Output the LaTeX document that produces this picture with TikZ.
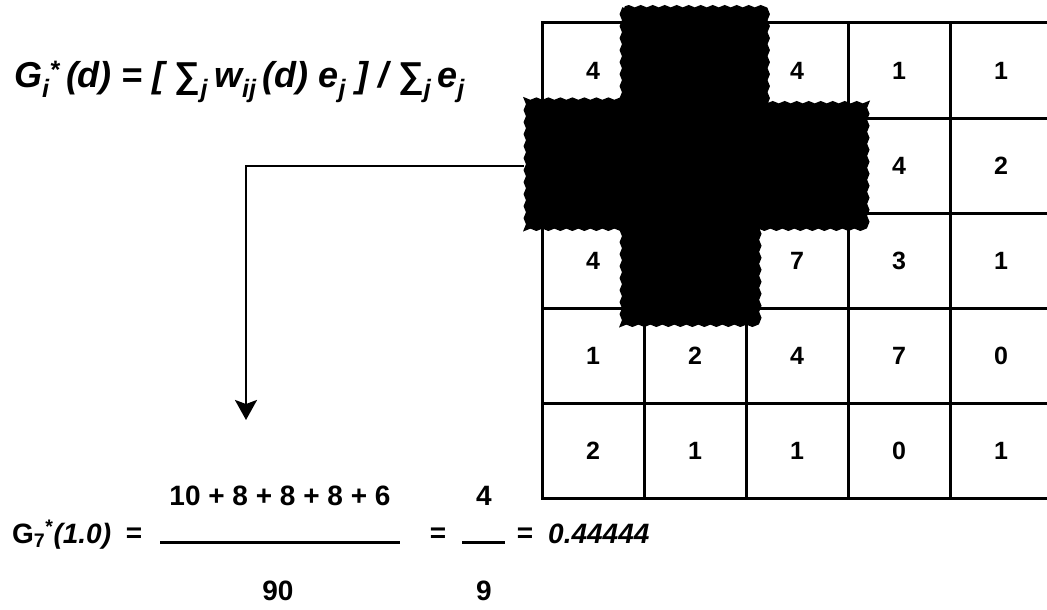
\documentclass[tikz,border=0pt]{standalone}
\usepackage{fontspec}
\setmainfont{Liberation Sans}
\usetikzlibrary{arrows.meta,decorations.pathmorphing}

\tikzset{
  cell/.style={draw, line width=3pt, minimum width=102pt, minimum height=95pt,
    inner sep=0pt, font=\fontsize{25}{25}\selectfont\bfseries},
  blot/.style={fill=black, draw=black, line width=1.5pt, decorate,
    decoration={snake, segment length=12pt, amplitude=1.2pt}},
  eqn/.style={inner sep=0pt, font=\fontsize{28}{28}\selectfont\bfseries},
  bar/.style={line width=3pt},
}

\begin{document}
\begin{tikzpicture}[x=1pt, y=-1pt]
  \useasboundingbox (0,0) rectangle (1047,610);
  \clip (0,0) rectangle (1047,610);

  % grid of values, blank cells lie under the cross
  \foreach \vals [count=\r] in {{4,{},4,1,1},{{},{},{},4,2},{4,{},7,3,1},{1,2,4,7,0},{2,1,1,0,1}}
    \foreach \v [count=\c] in \vals
      \node[cell] (cell-\r-\c) at ({542+102*(\c-0.5)}, {23+95*(\r-0.5)}) {\v};

  % neighbourhood cross
  \draw[blot] (625,7) -- (763,7) -- (763,102) -- (867,102) -- (867,229) -- (763,229)
    -- (763,325) -- (625,325) -- (625,229) -- (524,229) -- (524,102) -- (625,102) -- cycle;

  \coordinate (crossW) at (524,166);
  \coordinate (drop) at (246,420);
  \draw[line width=2.5pt, -{Stealth[length=20pt, width=22pt, inset=4pt]}] (crossW) -| (drop);

  % definition
  \node[anchor=base west, inner sep=0pt, font=\fontsize{36}{36}\selectfont\bfseries\itshape] (gdef) at (14,88)
    {G\textsubscript{i}\textsuperscript{*}\,(d) = [ {\upshape ∑}\textsubscript{j}\,w\textsubscript{ij}\,(d) e\textsubscript{j} ] / {\upshape ∑}\textsubscript{j}\,e\textsubscript{j}};

  % worked value
  \node[eqn, anchor=base west] (gseven) at (12,543) {G\textsubscript{7}\textsuperscript{*}\textit{(1.0)}};
  \node[eqn] (eqA) at (134,535) {=};
  \coordinate (barAL) at (160,542);
  \coordinate (barAR) at (400,542);
  \draw[bar] (barAL) -- (barAR);
  \node[eqn] (numA) at (280,496) {10 + 8 + 8 + 8 + 6};
  \node[eqn] (denA) at (278,591) {90};
  \node[eqn] (eqB) at (438,535) {=};
  \coordinate (barBL) at (462,542);
  \coordinate (barBR) at (505,542);
  \draw[bar] (barBL) -- (barBR);
  \node[eqn] (numB) at (484,496) {4};
  \node[eqn] (denB) at (484,591) {9};
  \node[eqn] (eqC) at (525,535) {=};
  \node[eqn, anchor=base west] (result) at (548,543) {\itshape 0.44444};
\end{tikzpicture}
\end{document}
